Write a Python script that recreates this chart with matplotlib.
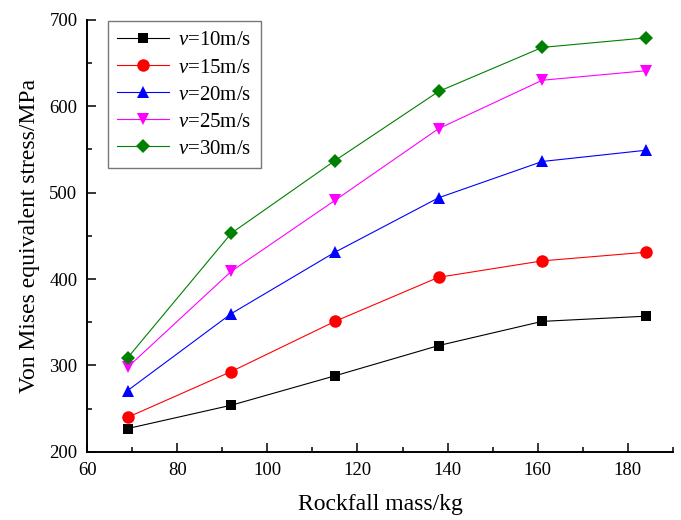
import matplotlib
matplotlib.use('Agg')
import matplotlib.pyplot as plt
from matplotlib.ticker import MultipleLocator

plt.rcParams['font.family'] = ['Liberation Serif', 'DejaVu Serif']
plt.rcParams['mathtext.fontset'] = 'custom'
plt.rcParams['mathtext.rm'] = 'Liberation Serif'
plt.rcParams['mathtext.it'] = 'Liberation Serif:italic'

# Rockfall mass (kg)
mass = [69, 92, 115, 138, 161, 184]

# Von Mises equivalent stress (MPa) for each impact velocity
stress_v10 = [227, 254, 288, 323, 351, 357]
stress_v15 = [240, 293, 351, 402, 421, 431]
stress_v20 = [271, 360, 431, 494, 536, 549]
stress_v25 = [298, 409, 491, 574, 630, 641]
stress_v30 = [309, 453, 537, 617, 668, 679]

labels = [r'$\mathit{v}$=10m/s', r'$\mathit{v}$=15m/s', r'$\mathit{v}$=20m/s',
          r'$\mathit{v}$=25m/s', r'$\mathit{v}$=30m/s']

fig = plt.figure(figsize=(6.81, 5.2), dpi=100)
ax = fig.add_axes([0.128, 0.131, 0.860, 0.831])

series = [
    (stress_v10, 'black', 's', 7.5),
    (stress_v15, 'red', 'o', 9),
    (stress_v20, 'blue', '^', 9),
    (stress_v25, 'magenta', 'v', 9),
    (stress_v30, 'green', 'D', 7.5),
]
for (vals, color, marker, ms), label in zip(series, labels):
    ax.plot(mass, vals, color=color, marker=marker, markersize=ms,
            linewidth=0.8, markeredgewidth=0, label=label)

ax.set_xlim(60, 190)
ax.set_ylim(200, 700)
ax.xaxis.set_major_locator(MultipleLocator(20))
ax.xaxis.set_minor_locator(MultipleLocator(10))
ax.yaxis.set_major_locator(MultipleLocator(100))
ax.yaxis.set_minor_locator(MultipleLocator(50))

for side in ['top', 'right']:
    ax.spines[side].set_visible(False)
for side in ['left', 'bottom']:
    ax.spines[side].set_linewidth(1.4)

ax.tick_params(which='major', direction='in', length=6.5, width=1.1,
               labelsize=13.5, pad=7)
ax.tick_params(which='minor', direction='in', length=3.5, width=1.1)

ax.set_xlabel('Rockfall mass/kg', fontsize=17, labelpad=11)
ax.set_ylabel('Von Mises equivalent stress/MPa', fontsize=17, labelpad=7)

leg = ax.legend(loc='upper left', bbox_to_anchor=(0.035, 0.996), fontsize=15,
                frameon=True, fancybox=False, edgecolor='#555555',
                handlelength=2.5, handletextpad=0.45, labelspacing=0.36,
                borderpad=0.45, borderaxespad=0)
leg.get_frame().set_linewidth(1.0)

fig.savefig('out.png', dpi=100)
